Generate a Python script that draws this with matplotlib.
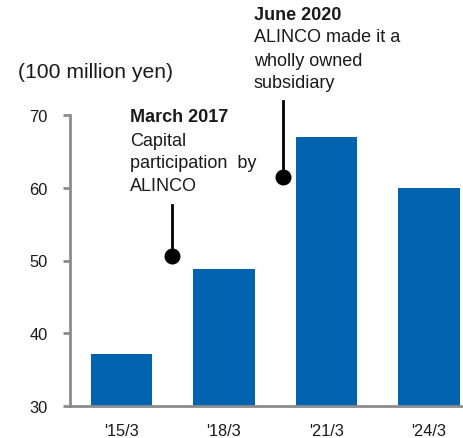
import matplotlib
matplotlib.use("Agg")
import matplotlib.pyplot as plt

categories = ["'15/3", "'18/3", "'21/3", "'24/3"]
values = [37.2, 48.9, 67.0, 60.0]
y_ticks = [30, 40, 50, 60, 70]
unit_label = "(100 million yen)"
events = [
    {"title": "March 2017", "body": ["Capital", "participation  by", "ALINCO"]},
    {"title": "June 2020", "body": ["ALINCO made it a", "wholly owned", "subsidiary"]},
]

plt.rcParams['font.family'] = ['Liberation Sans', 'DejaVu Sans']

W, H = 464, 439
fig = plt.figure(figsize=(W / 100, H / 100), dpi=100)
ax = fig.add_axes([70 / W, (H - 407) / H, (464 - 70) / W, (407 - 116) / H])

x = list(range(len(categories)))
ax.bar(x, values, width=0.6, color="#0163B0", zorder=2)
ax.set_xlim(-0.5, 3.34)
ax.set_ylim(30, 70)
ax.set_yticks(y_ticks)
ax.set_xticks(x)
ax.set_xticklabels(categories)

for s in ["top", "right"]:
    ax.spines[s].set_visible(False)
for s in ["left", "bottom"]:
    ax.spines[s].set_color("#8c8c8c")
    ax.spines[s].set_linewidth(2)
ax.tick_params(axis="y", length=5, width=2, color="#8c8c8c", pad=11,
               labelsize=11.8, labelcolor="#1a1a1a")
ax.tick_params(axis="x", length=0, pad=12, labelsize=11.8, labelcolor="#1a1a1a")

fig.text(18 / W, 1 - 72 / H, unit_label, fontsize=15.2, va="center", ha="left",
         color="#1a1a1a")

# Annotation placements (pixel coordinates in the figure)
text_pos = [(130, 118), (254, 15)]
line_step = 23
line_x = [172, 283]
line_top = [206, 102]
dot_y = [257, 178]

def px(xp, yp):
    return xp / W, 1 - yp / H

for ev, (tx, ty), lx, lt, dy in zip(events, text_pos, line_x, line_top, dot_y):
    fx, fy = px(tx, ty)
    fig.text(fx, fy, ev["title"], fontsize=13, fontweight="bold",
             va="center", ha="left", color="#1a1a1a")
    for i, line in enumerate(ev["body"]):
        fx2, fy2 = px(tx, ty + line_step * (i + 1))
        fig.text(fx2, fy2, line, fontsize=13, va="center", ha="left",
                 color="#1a1a1a")
    x0, y0 = px(lx, lt)
    x1, y1 = px(lx, dy)
    fig.add_artist(plt.Line2D([x0, x1], [y0, y1], color="black", lw=2,
                              transform=fig.transFigure))
    fig.add_artist(plt.Line2D([x1], [y1], marker="o", markersize=10.5,
                              color="black", transform=fig.transFigure))

fig.savefig("out.png", dpi=100)
